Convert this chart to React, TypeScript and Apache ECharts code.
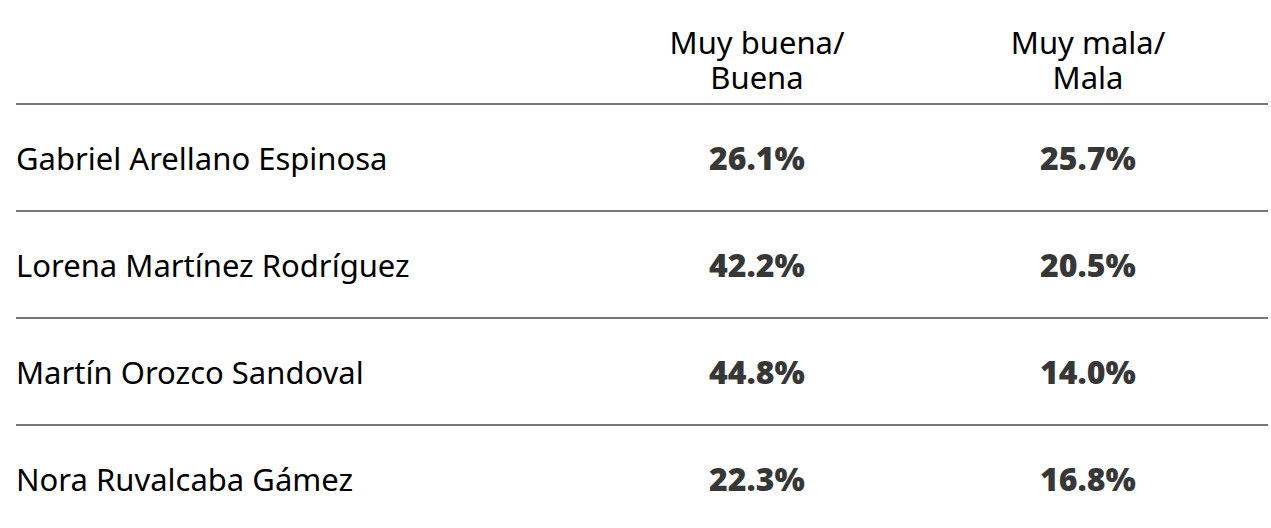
import React, { useEffect, useRef } from "react";
import * as echarts from "echarts";

const names = [
  "Gabriel Arellano Espinosa",
  "Lorena Martínez Rodríguez",
  "Martín Orozco Sandoval",
  "Nora Ruvalcaba Gámez",
];
const columns = ["", "Muy buena/\nBuena", "Muy mala/\nMala"];
const buena = [26.1, 42.2, 44.8, 22.3];
const mala = [25.7, 20.5, 14.0, 16.8];

const FONT = "'Noto Sans', 'Open Sans', sans-serif";

export default function App() {
  const ref = useRef<HTMLDivElement>(null);
  useEffect(() => {
    if (!ref.current) return;
    const chart = echarts.init(ref.current, undefined, { renderer: "svg" });
    const mk = (col: string, vals: number[]) =>
      names.map((n, i) => ({ value: [col, n, vals[i]] }));
    const labelStyle = {
      show: true,
      position: "inside" as const,
      formatter: (p: any) => p.value[2].toFixed(1) + "%",
      fontFamily: FONT,
      fontSize: 32,
      fontWeight: 900 as any,
      color: "#000",
    };
    chart.setOption({
      animation: false,
      backgroundColor: "#fff",
      grid: [
        { left: 16, right: 3, top: 104, height: 428 },
        { left: 260.5, width: 993, top: 104, height: 428 },
      ],
      xAxis: [
        { type: "value", gridIndex: 0, show: false, min: 0, max: 1 },
        {
          type: "category",
          gridIndex: 1,
          data: columns,
          position: "top",
          axisLine: { show: false },
          axisTick: { show: false },
          splitLine: { show: false },
          axisLabel: {
            fontFamily: FONT,
            fontSize: 31,
            lineHeight: 35,
            color: "#000",
            margin: 10,
          },
        },
      ],
      yAxis: [
        {
          type: "category",
          gridIndex: 0,
          data: names,
          inverse: true,
          axisLine: { show: false },
          axisTick: { show: false },
          axisLabel: {
            inside: true,
            margin: 0,
            align: "left",
            fontFamily: FONT,
            fontSize: 31,
            color: "#000",
          },
          splitLine: { show: true, lineStyle: { color: "#4a4a4a", width: 1.5 } },
        },
        {
          type: "category",
          gridIndex: 1,
          data: names,
          inverse: true,
          show: false,
        },
      ],
      series: [
        {
          type: "scatter",
          xAxisIndex: 1,
          yAxisIndex: 1,
          symbolSize: 0,
          data: mk(columns[1], buena),
          label: labelStyle,
        },
        {
          type: "scatter",
          xAxisIndex: 1,
          yAxisIndex: 1,
          symbolSize: 0,
          data: mk(columns[2], mala),
          label: labelStyle,
        },
      ],
    });
    return () => chart.dispose();
  }, []);
  return (
    <div
      style={{
        position: "fixed",
        left: 0,
        top: 0,
        width: 1271,
        height: 528,
        overflow: "hidden",
        background: "#fff",
      }}
    >
      <div ref={ref} style={{ width: 1271, height: 560 }} />
    </div>
  );
}
